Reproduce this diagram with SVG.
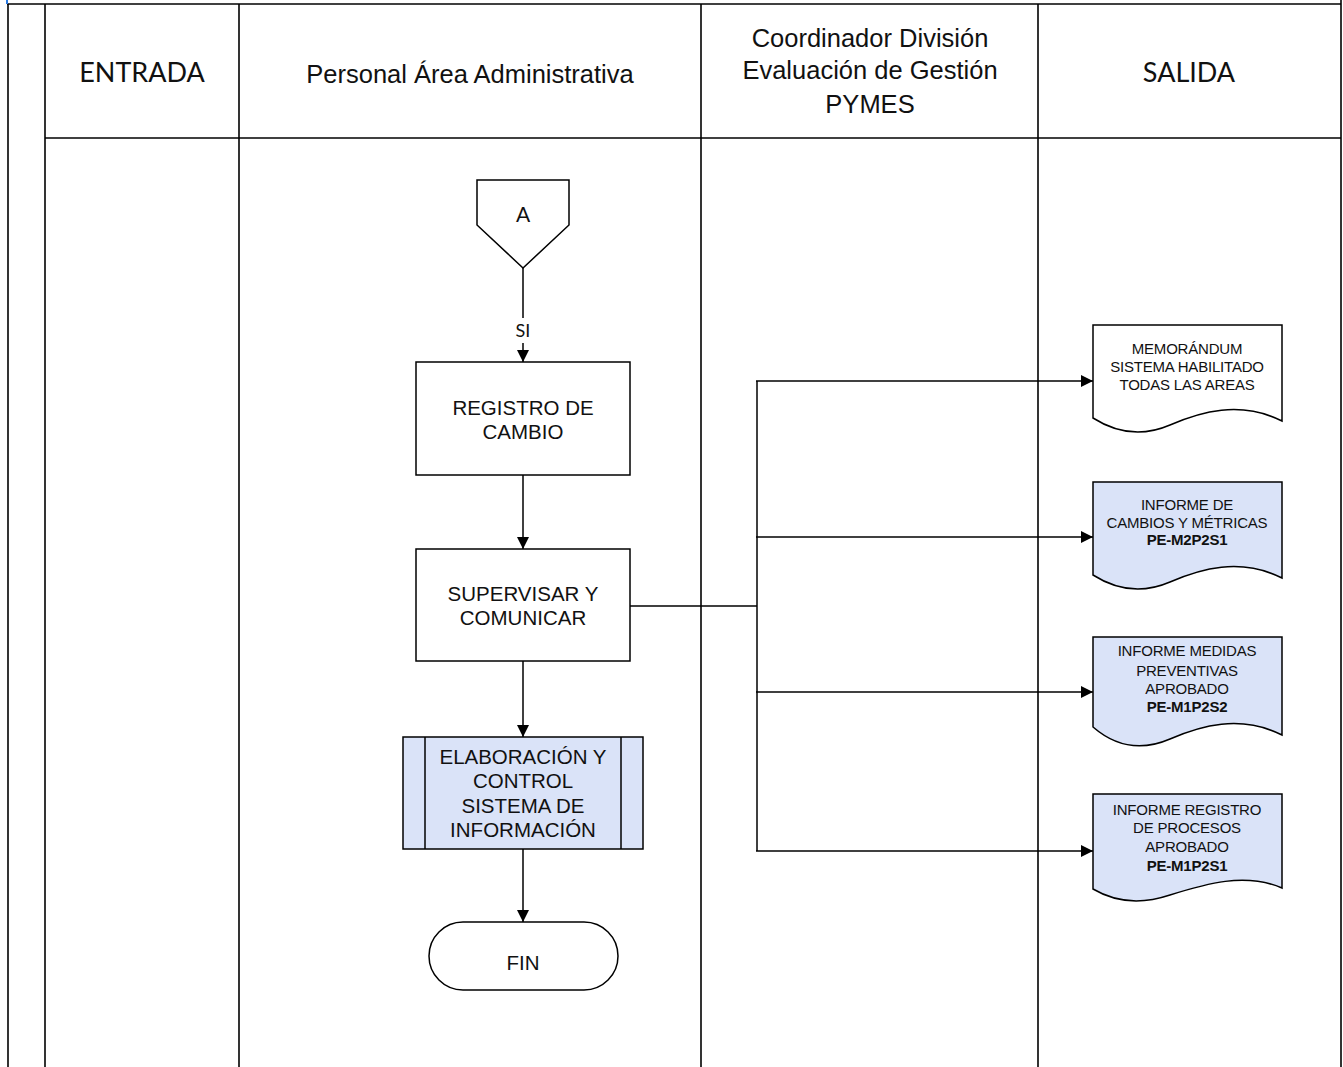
<svg xmlns="http://www.w3.org/2000/svg" width="1343" height="1067" viewBox="0 0 1343 1067">
  <style>
    .lane { stroke: #000; stroke-width: 1.6; fill: none; }
    .shape { stroke: #000; stroke-width: 1.5; fill: #fff; }
    .proc { stroke: #000; stroke-width: 1.5; fill: #dae3f8; }
    .conn { stroke: #000; stroke-width: 1.5; fill: none; }
    .hdr { font-family: "Liberation Sans", Arial, sans-serif; font-size: 25.5px; fill: #111; text-anchor: middle; }
    .hdrc { font-family: Lato, "Liberation Sans", sans-serif; font-size: 27px; fill: #111; text-anchor: middle; }
    .t { font-family: "Liberation Sans", Arial, sans-serif; font-size: 20.5px; fill: #111; text-anchor: middle; }
    .d { font-family: "Liberation Sans", Arial, sans-serif; font-size: 15px; fill: #111; text-anchor: middle; letter-spacing: -0.2px; }
    .b { font-weight: bold; }
    .c { font-family: Lato, "Liberation Sans", sans-serif; fill: #111; text-anchor: middle; }
  </style>
  <defs>
    <marker id="arrow" viewBox="0 0 12 12" refX="12" refY="6" markerWidth="12" markerHeight="12" markerUnits="userSpaceOnUse" orient="auto">
      <path d="M0,0 L12,6 L0,12 Z" fill="#000"/>
    </marker>
  </defs>

  <rect width="1343" height="1067" fill="#fff"/>

  <!-- swimlane frame -->
  <g id="lanes">
    <line class="lane" x1="7" y1="4" x2="1341" y2="4"/>
    <line class="lane" x1="8" y1="4" x2="8" y2="1067"/>
    <line class="lane" x1="1341" y1="0" x2="1341" y2="1067"/>
    <line class="lane" x1="45" y1="4" x2="45" y2="1067"/>
    <line class="lane" x1="239" y1="4" x2="239" y2="1067"/>
    <line class="lane" x1="701" y1="4" x2="701" y2="1067"/>
    <line class="lane" x1="1038" y1="4" x2="1038" y2="1067"/>
    <line class="lane" x1="45" y1="138" x2="1341" y2="138"/>
    <line x1="7" y1="0" x2="7" y2="4" stroke="#2a7be4" stroke-width="2"/>
  </g>

  <!-- lane headers -->
  <g id="headers">
    <text class="hdrc" x="142" y="82">ENTRADA</text>
    <text class="hdr" x="470" y="83">Personal Área Administrativa</text>
    <text class="hdr" x="870" y="47">Coordinador División</text>
    <text class="hdr" x="870" y="79">Evaluación de Gestión</text>
    <text class="hdr" x="870" y="113">PYMES</text>
    <text class="hdrc" x="1189" y="82">SALIDA</text>
  </g>

  <!-- connectors -->
  <g id="connectors">
    <line class="conn" x1="523" y1="268" x2="523" y2="318"/>
    <text class="c" x="523" y="337" font-size="18">SI</text>
    <line class="conn" x1="523" y1="343" x2="523" y2="362" marker-end="url(#arrow)"/>
    <line class="conn" x1="523" y1="475" x2="523" y2="549" marker-end="url(#arrow)"/>
    <line class="conn" x1="523" y1="661" x2="523" y2="737" marker-end="url(#arrow)"/>
    <line class="conn" x1="523" y1="849" x2="523" y2="922" marker-end="url(#arrow)"/>
    <line class="conn" x1="630" y1="606" x2="757" y2="606"/>
    <line class="conn" x1="757" y1="381" x2="757" y2="851"/>
    <line class="conn" x1="756" y1="381" x2="1093" y2="381" marker-end="url(#arrow)"/>
    <line class="conn" x1="756" y1="537" x2="1093" y2="537" marker-end="url(#arrow)"/>
    <line class="conn" x1="756" y1="692" x2="1093" y2="692" marker-end="url(#arrow)"/>
    <line class="conn" x1="756" y1="851" x2="1093" y2="851" marker-end="url(#arrow)"/>
  </g>

  <!-- off-page reference -->
  <g id="offpage-a">
    <path class="shape" d="M477,180 L569,180 L569,225 L523,268 L477,225 Z"/>
    <text class="c" x="523" y="222" font-size="21">A</text>
  </g>

  <g id="registro-cambio">
    <rect class="shape" x="416" y="362" width="214" height="113"/>
    <text class="t" x="523" y="415">REGISTRO DE</text>
    <text class="t" x="523" y="439">CAMBIO</text>
  </g>

  <g id="supervisar">
    <rect class="shape" x="416" y="549" width="214" height="112"/>
    <text class="t" x="523" y="601">SUPERVISAR Y</text>
    <text class="t" x="523" y="625">COMUNICAR</text>
  </g>

  <g id="elaboracion">
    <rect class="proc" x="403" y="737" width="240" height="112"/>
    <line class="conn" x1="425" y1="737" x2="425" y2="849"/>
    <line class="conn" x1="621" y1="737" x2="621" y2="849"/>
    <text class="t" x="523" y="764">ELABORACIÓN Y</text>
    <text class="t" x="523" y="788">CONTROL</text>
    <text class="t" x="523" y="813">SISTEMA DE</text>
    <text class="t" x="523" y="837">INFORMACIÓN</text>
  </g>

  <g id="fin">
    <rect class="shape" x="429" y="922" width="189" height="68" rx="34" ry="34"/>
    <text class="t" x="523" y="970" font-size="19">FIN</text>
  </g>

  <!-- output documents -->
  <g id="doc-memorandum">
    <path class="shape" d="M1093,325 L1282,325 L1282,421 C1240,400 1200,412 1170,425 C1140,438 1115,432 1093,418 Z"/>
    <text class="d" x="1187" y="354">MEMORÁNDUM</text>
    <text class="d" x="1187" y="372">SISTEMA HABILITADO</text>
    <text class="d" x="1187" y="390">TODAS LAS AREAS</text>
  </g>

  <g id="doc-informe-cambios">
    <path class="proc" d="M1093,482 L1282,482 L1282,578 C1240,557 1200,569 1170,582 C1140,595 1115,589 1093,575 Z"/>
    <text class="d" x="1187" y="510">INFORME DE</text>
    <text class="d" x="1187" y="528">CAMBIOS Y MÉTRICAS</text>
    <text class="d b" x="1187" y="545">PE-M2P2S1</text>
  </g>

  <g id="doc-medidas">
    <path class="proc" d="M1093,637 L1282,637 L1282,735 C1240,714 1200,726 1170,739 C1140,752 1115,746 1093,727 Z"/>
    <text class="d" x="1187" y="656">INFORME MEDIDAS</text>
    <text class="d" x="1187" y="676">PREVENTIVAS</text>
    <text class="d" x="1187" y="694">APROBADO</text>
    <text class="d b" x="1187" y="712">PE-M1P2S2</text>
  </g>

  <g id="doc-registro-procesos">
    <path class="proc" d="M1093,794 L1282,794 L1282,888 C1245,872 1205,884 1170,895 C1140,905 1115,902 1093,889 Z"/>
    <text class="d" x="1187" y="815">INFORME REGISTRO</text>
    <text class="d" x="1187" y="833">DE PROCESOS</text>
    <text class="d" x="1187" y="852">APROBADO</text>
    <text class="d b" x="1187" y="871">PE-M1P2S1</text>
  </g>
</svg>
